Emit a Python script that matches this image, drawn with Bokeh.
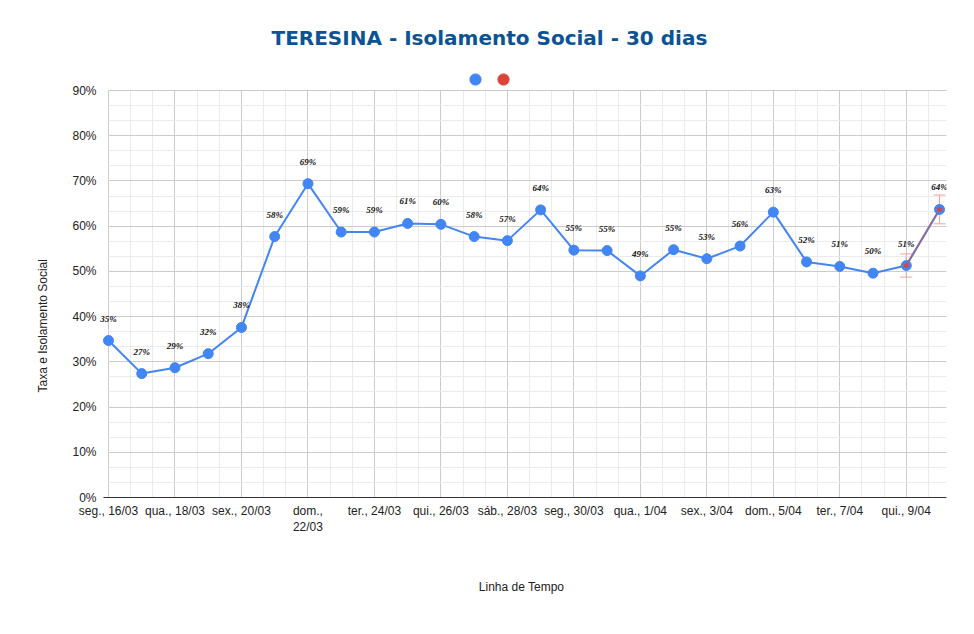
from bokeh.plotting import figure
from bokeh.models import (Range1d, FixedTicker, PrintfTickFormatter, ColumnDataSource,
                          Whisker, TeeHead, Legend, LegendItem, Title, LabelSet)
from bokeh.core.properties import value
from bokeh.embed import file_html
from bokeh.resources import INLINE

# ---- data ----
day_index = list(range(26))  # 16/03 .. 10/04
isolamento = [34.7, 27.4, 28.7, 31.8, 37.6, 57.7, 69.4, 58.7, 58.7, 60.6,
              60.4, 57.7, 56.8, 63.6, 54.7, 54.6, 49.0, 54.8, 52.8, 55.6,
              63.1, 52.1, 51.1, 49.6, 51.3, 63.7]
serie2_index = [24, 25]
serie2_values = [51.3, 63.7]
erro_pct = 5.0

tick_positions = [0, 2, 4, 6, 8, 10, 12, 14, 16, 18, 20, 22, 24]
tick_labels = ["seg., 16/03", "qua., 18/03", "sex., 20/03", "dom.,\n22/03",
               "ter., 24/03", "qui., 26/03", "sáb., 28/03", "seg., 30/03",
               "qua., 1/04", "sex., 3/04", "dom., 5/04", "ter., 7/04", "qui., 9/04"]
y_ticks = [0, 10, 20, 30, 40, 50, 60, 70, 80, 90]

FONT = "Liberation Sans"
BLUE = "#4285f4"
RED = "#db4437"

src = ColumnDataSource(dict(x=day_index, y=isolamento,
                            lab=[f"{round(v)}%" for v in isolamento]))
src2 = ColumnDataSource(dict(x=serie2_index, y=serie2_values,
                             lower=[v * (1 - erro_pct / 100) for v in serie2_values],
                             upper=[v * (1 + erro_pct / 100) for v in serie2_values]))

# frame extends 28px above the 90% line (legend row) and 12px left of the first day
PX_X = 25.21 / 838
Y_TOP = 90 + 28 * 90 / 407
X_END = 25.21
X_START = -12 * PX_X
p = figure(width=966, height=626, output_backend="svg", toolbar_location=None,
           x_range=Range1d(X_START, X_END), y_range=Range1d(0, Y_TOP),
           min_border_left=96, min_border_right=20, min_border_top=62,
           min_border_bottom=129)
p.outline_line_color = None
p.background_fill_color = "white"

x_minor = [i * 2 / 3 for i in range(39)]
y_minor = [i * 10 / 3 for i in range(28)]
p.xaxis.ticker = FixedTicker(ticks=tick_positions, minor_ticks=x_minor)
p.yaxis.ticker = FixedTicker(ticks=y_ticks, minor_ticks=y_minor)
p.xaxis.major_label_overrides = {t: l for t, l in zip(tick_positions, tick_labels)}
p.yaxis.formatter = PrintfTickFormatter(format="%d%%")

for g in (p.xgrid, p.ygrid):
    g.grid_line_color = "#cccccc"
    g.minor_grid_line_color = "#ebebeb"
p.xgrid.cross_bounds = (0, 90)
p.ygrid.cross_bounds = (0, X_END)

for ax in (p.xaxis, p.yaxis):
    ax.major_tick_line_color = None
    ax.minor_tick_line_color = None
    ax.major_tick_out = 0
    ax.major_tick_in = 0
    ax.minor_tick_out = 0
    ax.minor_tick_in = 0
    ax.major_label_text_font = FONT
    ax.major_label_text_font_size = "12px"
    ax.major_label_text_color = "#222222"
p.yaxis.axis_line_color = None
p.yaxis.major_label_standoff = 0
p.xaxis.bounds = (-5 * PX_X, X_END)
p.xaxis.axis_line_color = "#333333"
p.xaxis.major_label_standoff = 6
p.xaxis.axis_label = "Linha de Tempo"
p.xaxis.axis_label_text_font = FONT
p.xaxis.axis_label_text_font_size = "12px"
p.xaxis.axis_label_text_font_style = "normal"
p.xaxis.axis_label_text_color = "#222222"
p.xaxis.axis_label_standoff = 43

# series
p.line("x", "y", source=src, line_color=BLUE, line_width=2)
blue_pts = p.scatter("x", "y", source=src, size=10, fill_color=BLUE, line_color=BLUE)
p.line("x", "y", source=src2, line_color=RED, line_width=2, line_alpha=0.45)
wh = Whisker(source=src2, base="x", upper="upper", lower="lower",
             line_color="#f2a39c", line_width=1,
             upper_head=TeeHead(size=12, line_color="#f2a39c", line_width=1),
             lower_head=TeeHead(size=12, line_color="#f2a39c", line_width=1))
p.add_layout(wh)
red_pts = p.scatter("x", "y", source=src2, size=4, fill_color=RED, line_color=RED)

labels = LabelSet(x="x", y="y", text="lab", source=src, y_offset=22,
                  text_align="center", text_baseline="middle", text_font=FONT,
                  text_font_size="9px", text_font_style="bold italic",
                  text_color="#111111")
p.add_layout(labels)

leg = Legend(items=[LegendItem(label=" ", renderers=[blue_pts]),
                    LegendItem(label=" ", renderers=[red_pts])],
             orientation="horizontal", location=(353 + 12, 404),
             glyph_width=28, glyph_height=28, label_width=0, label_standoff=0,
             spacing=0, padding=0, margin=0, border_line_color=None,
             background_fill_alpha=0, label_text_font_size="1px")
p.add_layout(leg, "center")

title = Title(text="TERESINA - Isolamento Social - 30 dias", align="left", offset=175,
              text_font="DejaVu Sans", text_font_size="20px", text_font_style="bold",
              text_color="#0b5394", standoff=26)
p.add_layout(title, "above")

ytitle = Title(text="Taxa e Isolamento Social", align="left", offset=105,
               text_font=FONT, text_font_size="12px", text_font_style="normal",
               text_color="#222222", standoff=40)
p.add_layout(ytitle, "left")

open("out.html", "w").write(file_html(p, INLINE))
